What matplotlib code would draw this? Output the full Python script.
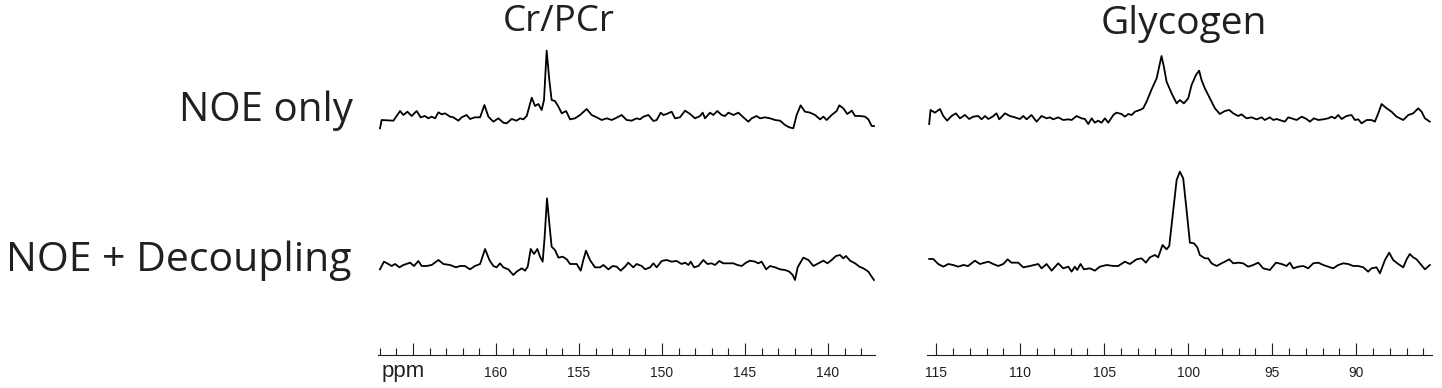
import matplotlib.pyplot as plt
from matplotlib.ticker import MultipleLocator, FixedLocator, FixedFormatter

# ---- data: chemical shift (ppm) and signal (a.u.) ----
cr_ppm_noe = [166.99, 166.89, 166.18, 165.78, 165.58, 165.34, 165.08, 164.78, 164.54, 164.28,
              164.08, 163.88, 163.67, 163.47, 163.27, 163.07, 162.77, 162.57, 162.27, 162.07,
              161.77, 161.57, 161.27, 160.96, 160.70, 160.46, 160.16, 159.86, 159.56, 159.36,
              159.06, 158.76, 158.55, 158.35, 158.15, 157.85, 157.65, 157.45, 157.25, 157.11,
              156.95, 156.79, 156.65, 156.45, 156.24, 156.04, 155.78, 155.54, 155.24, 154.94,
              154.54, 154.24, 153.94, 153.63, 153.33, 153.03, 152.73, 152.43, 152.13, 151.83,
              151.53, 151.33, 151.12, 150.82, 150.52, 150.32, 150.08, 149.92, 149.72, 149.42,
              149.22, 148.92, 148.61, 148.31, 148.01, 147.71, 147.55, 147.41, 147.11, 146.91,
              146.67, 146.41, 146.21, 146.00, 145.70, 145.40, 145.10, 144.80, 144.60, 144.30,
              144.10, 143.80, 143.49, 143.19, 142.89, 142.59, 142.33, 142.09, 141.89, 141.65,
              141.39, 141.08, 140.78, 140.48, 140.28, 140.08, 139.78, 139.48, 139.32, 139.08,
              138.84, 138.57, 138.37, 138.07, 137.77, 137.57, 137.37, 137.23]
cr_int_noe = [5, 30, 28, 57, 45, 55, 42, 57, 38, 42,
              35, 40, 35, 53, 47, 50, 40, 38, 28, 38,
              45, 33, 38, 38, 75, 40, 25, 35, 22, 20,
              33, 28, 35, 32, 42, 97, 72, 78, 60, 90,
              238, 150, 90, 87, 70, 50, 57, 32, 35, 45,
              63, 45, 38, 30, 35, 30, 37, 45, 30, 28,
              35, 32, 40, 45, 27, 30, 52, 45, 48, 55,
              35, 38, 58, 48, 35, 42, 52, 35, 52, 45,
              57, 45, 42, 52, 45, 52, 38, 25, 35, 42,
              35, 38, 35, 30, 28, 15, 8, 5, 45, 74,
              55, 52, 45, 32, 40, 30, 45, 57, 74, 65,
              48, 58, 42, 42, 40, 32, 12, 12]

cr_ppm_dec = [166.99, 166.75, 166.49, 166.29, 166.08, 165.82, 165.58, 165.18, 164.94, 164.68,
              164.48, 164.18, 163.88, 163.47, 163.17, 162.77, 162.41, 162.17, 161.87, 161.57,
              161.27, 160.96, 160.66, 160.40, 160.16, 159.96, 159.76, 159.56, 159.26, 158.96,
              158.76, 158.45, 158.25, 158.09, 157.91, 157.71, 157.51, 157.35, 157.19, 157.07,
              156.93, 156.79, 156.65, 156.45, 156.24, 155.98, 155.74, 155.54, 155.14, 154.90,
              154.74, 154.58, 154.34, 154.04, 153.73, 153.53, 153.23, 152.97, 152.73, 152.49,
              152.23, 152.03, 151.73, 151.53, 151.22, 151.02, 150.72, 150.52, 150.32, 150.02,
              149.72, 149.42, 149.12, 148.82, 148.61, 148.41, 148.27, 148.07, 147.81, 147.51,
              147.27, 147.01, 146.81, 146.55, 146.31, 146.00, 145.70, 145.46, 145.20, 144.94,
              144.70, 144.40, 144.20, 144.00, 143.73, 143.49, 143.19, 142.89, 142.59, 142.33,
              142.13, 141.99, 141.83, 141.49, 141.18, 140.88, 140.58, 140.28, 140.04, 139.78,
              139.52, 139.28, 139.08, 138.92, 138.67, 138.37, 138.11, 137.87, 137.57, 137.37,
              137.23]
cr_int_dec = [32, 55, 48, 42, 48, 38, 45, 52, 42, 57,
              42, 42, 45, 60, 48, 45, 38, 42, 42, 32,
              42, 48, 93, 60, 42, 38, 50, 38, 32, 15,
              25, 35, 28, 40, 93, 78, 93, 70, 55, 130,
              245, 170, 100, 90, 67, 70, 62, 48, 48, 28,
              60, 88, 60, 38, 38, 45, 32, 42, 40, 28,
              40, 52, 38, 48, 42, 32, 38, 50, 38, 57,
              60, 55, 57, 48, 52, 45, 55, 38, 42, 60,
              48, 50, 45, 57, 50, 50, 50, 45, 42, 52,
              58, 55, 50, 55, 32, 42, 38, 32, 30, 25,
              15, 0, 38, 67, 60, 42, 50, 58, 50, 60,
              72, 75, 65, 72, 58, 50, 40, 35, 25, 10,
              0]

gly_ppm_noe = [115.42, 115.34, 115.08, 114.78, 114.58, 114.35, 114.09, 113.83, 113.59, 113.29,
               113.04, 112.80, 112.50, 112.30, 112.10, 111.90, 111.65, 111.41, 111.25, 110.91,
               110.62, 110.32, 110.02, 109.82, 109.62, 109.33, 109.03, 108.73, 108.43, 108.23,
               108.04, 107.74, 107.44, 107.14, 106.94, 106.65, 106.35, 106.15, 105.95, 105.75,
               105.56, 105.36, 105.16, 104.96, 104.76, 104.46, 104.27, 103.97, 103.77, 103.57,
               103.37, 103.17, 102.88, 102.68, 102.48, 102.18, 101.88, 101.73, 101.59, 101.45,
               101.29, 100.99, 100.69, 100.50, 100.26, 100.00, 99.80, 99.54, 99.35, 99.21,
               99.01, 98.71, 98.41, 98.12, 97.82, 97.56, 97.32, 97.02, 96.83, 96.53,
               96.23, 95.93, 95.63, 95.44, 95.14, 94.94, 94.74, 94.44, 94.25, 94.05,
               93.85, 93.55, 93.25, 92.96, 92.76, 92.52, 92.26, 91.96, 91.67, 91.47,
               91.27, 91.07, 90.87, 90.58, 90.28, 90.08, 89.88, 89.68, 89.38, 89.09,
               88.89, 88.69, 88.49, 88.19, 87.90, 87.60, 87.20, 86.90, 86.61, 86.31,
               86.11, 85.91, 85.62]
gly_int_noe = [18, 60, 52, 63, 42, 28, 42, 50, 35, 45,
               33, 40, 42, 32, 42, 33, 40, 50, 32, 50,
               42, 38, 33, 42, 32, 45, 25, 42, 35, 38,
               32, 38, 30, 32, 30, 42, 35, 33, 18, 35,
               22, 28, 22, 35, 22, 45, 52, 48, 40, 48,
               45, 55, 60, 65, 85, 122, 155, 190, 222, 190,
               145, 110, 80, 90, 80, 95, 135, 165, 178, 150,
               125, 95, 65, 48, 57, 60, 50, 42, 47, 35,
               38, 32, 38, 30, 38, 30, 33, 28, 25, 38,
               35, 30, 40, 33, 25, 35, 30, 32, 35, 40,
               35, 45, 33, 42, 45, 30, 32, 20, 30, 30,
               25, 50, 78, 65, 55, 40, 30, 45, 50, 65,
               55, 35, 25]

gly_ppm_dec = [115.42, 115.18, 114.88, 114.58, 114.29, 113.99, 113.69, 113.39, 113.10, 112.70,
               112.40, 111.90, 111.61, 111.31, 111.01, 110.75, 110.52, 110.12, 109.82, 109.42,
               108.93, 108.73, 108.43, 108.13, 107.74, 107.44, 107.14, 106.94, 106.75, 106.61,
               106.41, 106.21, 105.85, 105.56, 105.26, 104.86, 104.46, 104.17, 103.77, 103.47,
               103.08, 102.78, 102.52, 102.28, 101.98, 101.79, 101.53, 101.29, 101.13, 100.89,
               100.69, 100.50, 100.30, 100.10, 99.90, 99.66, 99.46, 99.31, 99.01, 98.81,
               98.61, 98.31, 98.02, 97.82, 97.56, 97.32, 97.02, 96.73, 96.43, 96.13,
               95.83, 95.54, 95.14, 94.78, 94.44, 94.15, 93.95, 93.75, 93.45, 93.15,
               92.86, 92.56, 92.26, 91.96, 91.67, 91.37, 91.07, 90.77, 90.48, 90.18,
               89.88, 89.58, 89.29, 89.09, 88.79, 88.59, 88.29, 88.04, 87.80, 87.50,
               87.20, 87.00, 86.81, 86.61, 86.41, 86.21, 85.91, 85.62]
gly_int_dec = [63, 63, 48, 40, 48, 45, 40, 45, 42, 58,
               48, 55, 48, 42, 48, 62, 52, 52, 38, 42,
               48, 35, 48, 28, 50, 35, 40, 25, 40, 30,
               48, 32, 35, 28, 40, 45, 42, 42, 55, 48,
               62, 65, 52, 68, 75, 68, 105, 92, 102, 210,
               300, 325, 305, 210, 112, 110, 98, 75, 65, 65,
               50, 42, 50, 55, 62, 50, 52, 50, 40, 45,
               52, 35, 30, 52, 48, 42, 52, 35, 40, 42,
               35, 50, 52, 45, 40, 35, 45, 50, 48, 42,
               42, 38, 25, 35, 38, 20, 60, 82, 60, 48,
               38, 62, 78, 68, 62, 50, 32, 45]

cr_ticks = [165, 160, 155, 150, 145, 140]
cr_tick_labels = ["", "160", "155", "150", "145", "140"]   # 165 sits under "ppm"
gly_ticks = [115, 110, 105, 100, 95, 90]
gly_tick_labels = ["115", "110", "105", "100", "95", "90"]
titles = ["Cr/PCr", "Glycogen"]
row_labels = ["NOE only", "NOE + Decoupling"]

# ---- layout (figure pixels) ----
W, H = 1442, 388
INK = "#231f20"
label_font = ["Open Sans", "DejaVu Sans"]
num_font = ["Liberation Sans", "DejaVu Sans"]

fig = plt.figure(figsize=(W / 100, H / 100), dpi=100)


def spectrum_axes(x0, x1, xlim, majors, labels):
    ax = fig.add_axes([x0 / W, 33 / H, (x1 - x0) / W, 355 / H])
    ax.patch.set_alpha(0)
    ax.set_xlim(*xlim)
    ax.set_ylim(0, 1065)
    for s in ("top", "left", "right"):
        ax.spines[s].set_visible(False)
    ax.spines["bottom"].set_linewidth(0.8)
    ax.spines["bottom"].set_color(INK)
    ax.set_yticks([])
    ax.xaxis.set_major_locator(FixedLocator(majors))
    ax.xaxis.set_major_formatter(FixedFormatter(labels))
    ax.xaxis.set_minor_locator(MultipleLocator(1))
    ax.tick_params(axis="x", which="both", direction="in", color=INK, width=0.8,
                   labelsize=10, labelcolor=INK, pad=8)
    ax.tick_params(axis="x", which="major", length=9)
    ax.tick_params(axis="x", which="minor", length=5)
    for t in ax.get_xticklabels():
        t.set_family(num_font)
    return ax


ax_cr = spectrum_axes(378, 875, (167.11, 137.17), cr_ticks, cr_tick_labels)
ax_gly = spectrum_axes(927, 1432, (115.55, 85.49), gly_ticks, gly_tick_labels)

# top row sits higher than bottom row (offset in axis units)
top_off, bot_off = 675, 225
lw = 1.3
ax_cr.plot(cr_ppm_noe, [v + top_off for v in cr_int_noe], color="black", lw=lw)
ax_cr.plot(cr_ppm_dec, [v + bot_off for v in cr_int_dec], color="black", lw=lw)
ax_gly.plot(gly_ppm_noe, [v + top_off for v in gly_int_noe], color="black", lw=lw)
ax_gly.plot(gly_ppm_dec, [v + bot_off for v in gly_int_dec], color="black", lw=lw)

# titles and row labels
fig.text(559 / W, 1 - 31 / H, titles[0], ha="center", va="baseline",
         fontsize=26.5, color=INK, family=label_font)
fig.text(1184 / W, 1 - 34 / H, titles[1], ha="center", va="baseline",
         fontsize=28, color=INK, family=label_font)
fig.text(353 / W, 1 - 121 / H, row_labels[0], ha="right", va="baseline",
         fontsize=29, color=INK, family=label_font)
fig.text(351 / W, 1 - 271 / H, row_labels[1], ha="right", va="baseline",
         fontsize=29.5, color=INK, family=label_font)
fig.text(382 / W, 1 - 377 / H, "ppm", ha="left", va="baseline",
         fontsize=16, color=INK, family=num_font)

fig.savefig("out.png", dpi=100)
